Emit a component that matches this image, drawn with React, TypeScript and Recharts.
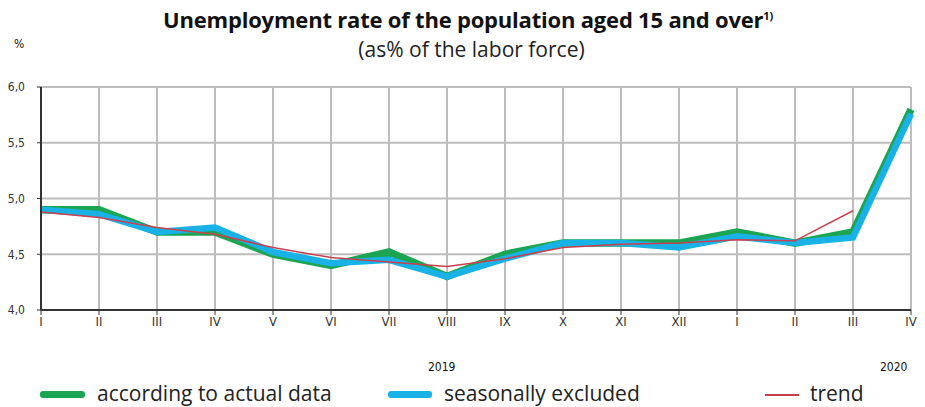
import { CartesianGrid, Line, LineChart, XAxis, YAxis } from "recharts";

// Months: 2019 I..XII, then 2020 I..IV
const months = ["I", "II", "III", "IV", "V", "VI", "VII", "VIII", "IX", "X", "XI", "XII", "I", "II", "III", "IV"];
const actual = [4.9, 4.9, 4.7, 4.7, 4.5, 4.4, 4.52, 4.3, 4.5, 4.6, 4.6, 4.6, 4.7, 4.6, 4.7, 5.8];
const seasonal = [4.9, 4.86, 4.7, 4.74, 4.52, 4.42, 4.45, 4.3, 4.46, 4.6, 4.6, 4.56, 4.66, 4.6, 4.65, 5.76];
const trend = [4.88, 4.83, 4.74, 4.68, 4.56, 4.47, 4.43, 4.39, 4.46, 4.56, 4.59, 4.6, 4.63, 4.62, 4.89, null];
const yTicks = [4.0, 4.5, 5.0, 5.5, 6.0];

const GREEN = "#1ba552";
const BLUE = "#19b2e6";
const RED = "#c8404f";

const data = months.map((m, i) => ({
  key: `${i}`,
  month: m,
  actual: actual[i],
  seasonal: seasonal[i],
  trend: trend[i],
}));

const narrow = "'DejaVu Sans Condensed', 'Roboto', sans-serif";

export default function App() {
  return (
    <div
      style={{
        position: "fixed",
        left: 0,
        top: 0,
        width: 925,
        height: 407,
        background: "#fff",
        fontFamily: "'Open Sans', sans-serif",
        color: "#111",
      }}
    >
      <div
        style={{
          position: "absolute",
          top: 4,
          left: 0,
          width: 936,
          textAlign: "center",
          fontWeight: 700,
          fontSize: 22,
          letterSpacing: -0.2,
        }}
      >
        Unemployment rate of the population aged 15 and over<sup style={{ fontSize: 11 }}>1)</sup>
      </div>
      <div
        style={{
          position: "absolute",
          top: 35,
          left: 0,
          width: 943,
          textAlign: "center",
          fontSize: 21,
          color: "#222",
        }}
      >
        (as% of the labor force)
      </div>
      <div style={{ position: "absolute", top: 37, left: 14, fontSize: 12, fontFamily: narrow }}>%</div>

      <LineChart
        width={925}
        height={407}
        data={data}
        margin={{ top: 87, right: 14, bottom: 67, left: 0 }}
      >
        <CartesianGrid stroke="#bdbdbd" strokeWidth={2} />
        <XAxis
          dataKey="key"
          type="category"
          padding={{ left: 0, right: 0 }}
          scale="point"
          tickFormatter={(_, i) => months[i]}
          height={30}
          axisLine={{ stroke: "#333", strokeWidth: 2 }}
          tickLine={{ stroke: "#333" }}
          tickSize={5}
          tick={{ fill: "#333", fontSize: 13, fontFamily: narrow }}
          interval={0}
        />
        <YAxis
          domain={[4, 6]}
          ticks={yTicks}
          width={41}
          tickFormatter={(v: number) => v.toFixed(1).replace(".", ",")}
          axisLine={{ stroke: "#333", strokeWidth: 2 }}
          tickLine={{ stroke: "#333" }}
          tickSize={4}
          tick={{ fill: "#333", fontSize: 12, fontFamily: narrow, dx: -10 }}
        />
        <Line dataKey="actual" stroke={GREEN} strokeWidth={7.5} dot={false} isAnimationActive={false} strokeLinejoin="miter" />
        <Line dataKey="seasonal" stroke={BLUE} strokeWidth={6.5} dot={false} isAnimationActive={false} strokeLinejoin="miter" />
        <Line dataKey="trend" stroke={RED} strokeWidth={1.5} dot={false} connectNulls={false} isAnimationActive={false} />
      </LineChart>

      <div style={{ position: "absolute", top: 360, left: 428, fontSize: 12, fontFamily: narrow }}>2019</div>
      <div style={{ position: "absolute", top: 360, left: 880, fontSize: 12, fontFamily: narrow }}>2020</div>

      <div style={{ position: "absolute", top: 382, left: 0, width: 925, height: 24, fontSize: 21, lineHeight: "22px", color: "#222" }}>
        <span style={{ position: "absolute", left: 40, top: 9, width: 45, height: 7, background: GREEN, borderRadius: 3 }} />
        <span style={{ position: "absolute", left: 97, top: 0 }}>according to actual data</span>
        <span style={{ position: "absolute", left: 388, top: 9, width: 44, height: 7, background: BLUE, borderRadius: 3 }} />
        <span style={{ position: "absolute", left: 444, top: 0 }}>seasonally excluded</span>
        <span style={{ position: "absolute", left: 765, top: 12, width: 34, height: 2, background: RED }} />
        <span style={{ position: "absolute", left: 810, top: 0 }}>trend</span>
      </div>
    </div>
  );
}
